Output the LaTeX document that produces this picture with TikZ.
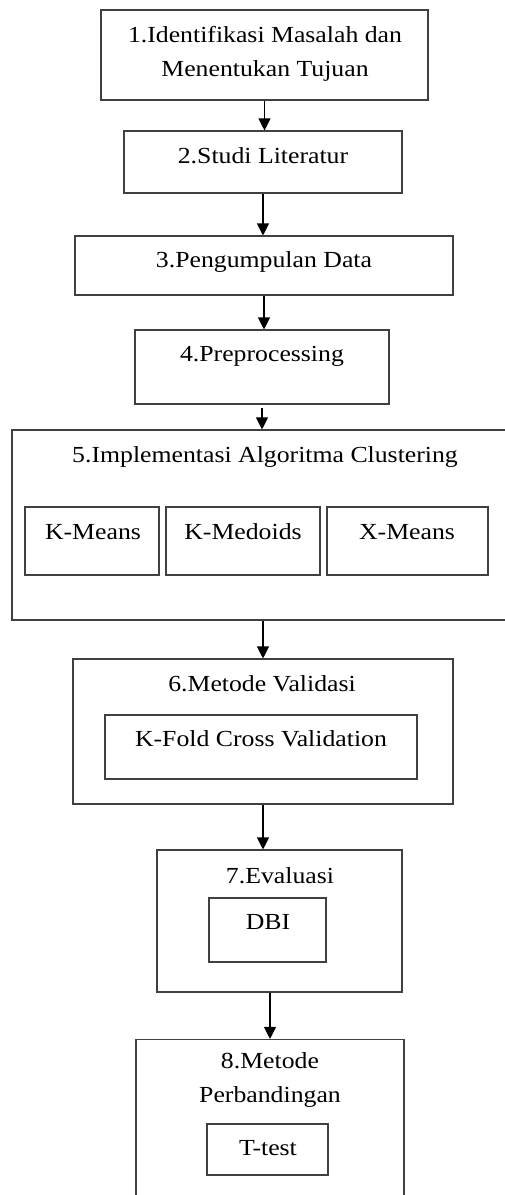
\documentclass[tikz,border=0pt]{standalone}
\usepackage{fontspec}
\setmainfont{Liberation Serif}[FakeStretch=1.12]
\usetikzlibrary{arrows.meta,positioning}

\begin{document}
\begin{tikzpicture}[x=1pt,y=-1pt,>={Triangle[length=12pt,width=12pt]},
    every node/.style={font=\fontsize{23}{34}\selectfont}]
  \tikzstyle{boxS}=[rectangle,draw=black!75,line width=1.1pt,inner sep=0pt]
  \tikzstyle{txtS}=[inner sep=0pt,align=center]
  \tikzstyle{arrS}=[->,draw=black,line width=1.1pt]

  \useasboundingbox (0,0) rectangle (505,1195);
  \clip (0,0) rectangle (505,1195);

  % Main steps
  \node[boxS, minimum width=327pt, minimum height=90pt]  (b1) at (264.5,55)  {};
  \node[boxS, minimum width=278pt, minimum height=62pt]  (b2) at (263,162)   {};
  \node[boxS, minimum width=378pt, minimum height=59pt]  (b3) at (264,265.5) {};
  \node[boxS, minimum width=254pt, minimum height=74pt]  (b4) at (262,367)   {};
  \node[boxS, minimum width=508pt, minimum height=190pt] (b5) at (266,525)   {};
  \node[boxS, minimum width=380pt, minimum height=145pt] (b6) at (263,731.5) {};
  \node[boxS, minimum width=245pt, minimum height=142pt] (b7) at (279.5,921) {};
  \node[boxS, minimum width=268pt, minimum height=175pt] (b8) at (270,1127)  {};

  % Inner boxes
  \node[boxS, minimum width=134pt, minimum height=68pt] (kmeans)  at (92,541)     {};
  \node[boxS, minimum width=154pt, minimum height=68pt] (kmedoid) at (243,541)    {};
  \node[boxS, minimum width=161pt, minimum height=68pt] (xmeans)  at (407.5,541)  {};
  \node[boxS, minimum width=312pt, minimum height=64pt] (kfold)   at (261,747)    {};
  \node[boxS, minimum width=117pt, minimum height=64pt] (dbi)     at (267.5,930)  {};
  \node[boxS, minimum width=121pt, minimum height=51pt] (ttest)   at (267.5,1149.5) {};

  % Labels
  \node[txtS] (t1) at (265,54)  {1.Identifikasi Masalah dan\\Menentukan Tujuan};
  \node[txtS] (t2) at (263,156) {2.Studi Literatur};
  \node[txtS] (t3) at (264,262) {3.Pengumpulan Data};
  \node[txtS] (t4) at (262,356) {4.Preprocessing};
  \node[txtS] (t5) at (265,457) {5.Implementasi Algoritma Clustering};
  \node[txtS] (t6) at (262,684) {6.Metode Validasi};
  \node[txtS] (t7) at (280,876) {7.Evaluasi};
  \node[txtS] (t8) at (270,1080) {8.Metode\\Perbandingan};

  \node[txtS] (tkm)  at (93,532)   {K-Means};
  \node[txtS] (tkmd) at (243,532)  {K-Medoids};
  \node[txtS] (txm)  at (407,532)  {X-Means};
  \node[txtS] (tkf)  at (261,739)  {K-Fold Cross Validation};
  \node[txtS] (tdbi) at (268,922)  {DBI};
  \node[txtS] (ttt)  at (268,1148) {T-test};

  % Arrows
  \draw[arrS] (b1.south) -- (b1.south |- b2.north);
  \draw[arrS] (b2.south) -- (b2.south |- b3.north);
  \draw[arrS] (b3.south) -- (b3.south |- b4.north);
  \draw[arrS, shorten <=3pt] (b4.south) -- (b4.south |- b5.north);
  \draw[arrS] (b5.south -| b6.north) -- (b6.north);
  \draw[arrS] (b6.south) -- (b6.south |- b7.north);
  \draw[arrS] (b7.south -| b8.north) -- (b8.north);
\end{tikzpicture}
\end{document}
